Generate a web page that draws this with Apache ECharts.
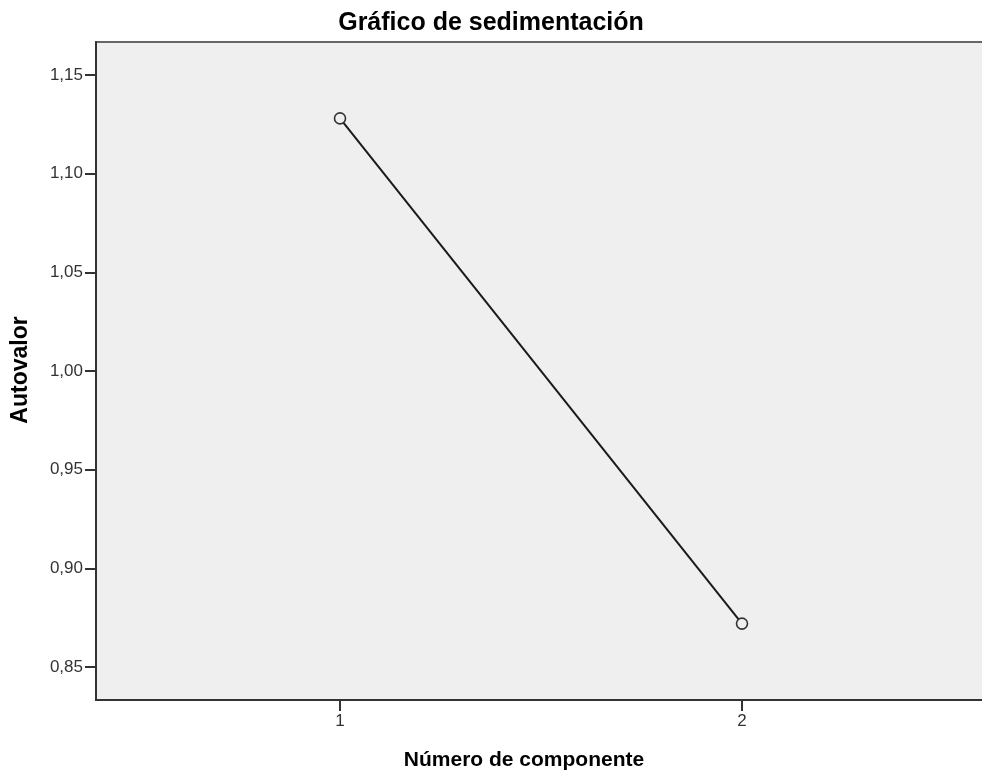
<!DOCTYPE html>
<html>
<head>
<meta charset="utf-8">
<script src="https://cdn.jsdelivr.net/npm/echarts@6/dist/echarts.min.js"></script>
<style>
html,body{margin:0;padding:0;background:#fff;}
#c{width:982px;height:774px;}
</style>
</head>
<body>
<div id="c"></div>
<script>
const components = [1, 2];
const eigenvalues = [1.128, 0.872];
const yTicks = [0.85, 0.90, 0.95, 1.00, 1.05, 1.10, 1.15];
const xTicks = [1, 2];
const titleText = 'Gráfico de sedimentación';
const xName = 'Número de componente';
const yName = 'Autovalor';

const chart = echarts.init(document.getElementById('c'), null, {renderer: 'canvas'});
const fmt = v => v.toFixed(2).replace('.', ',');
const FONT = '"Liberation Sans", Arial, sans-serif';
chart.setOption({
  animation: false,
  grid: {
    left: 96, top: 42, height: 658, width: 890, show: true,
    outerBoundsMode: 'none', containLabel: false,
    backgroundColor: '#efefef', borderColor: '#666', borderWidth: 2
  },
  xAxis: {
    type: 'value', min: 0.393, max: 2.607,
    axisLine: {show: true, lineStyle: {color: '#333', width: 2}},
    axisTick: {show: true, customValues: xTicks, length: 11, lineStyle: {color: '#333', width: 2}},
    axisLabel: {customValues: xTicks, formatter: v => String(v), color: '#333', fontSize: 17, fontFamily: FONT, margin: 13},
    splitLine: {show: false}
  },
  yAxis: {
    type: 'value', min: 0.8333, max: 1.1667,
    axisLine: {show: true, lineStyle: {color: '#333', width: 2}},
    axisTick: {show: true, customValues: yTicks, length: 11, lineStyle: {color: '#333', width: 2}},
    axisLabel: {customValues: yTicks, formatter: fmt, color: '#333', fontSize: 17, fontFamily: FONT, margin: 13},
    splitLine: {show: false}
  },
  graphic: [
    {type: 'text', x: 491, y: 23,
      style: {text: titleText, font: 'bold 25px ' + FONT, fill: '#000', align: 'center', verticalAlign: 'middle'}},
    {type: 'text', x: 524, y: 760,
      style: {text: xName, font: 'bold 21px ' + FONT, fill: '#000', align: 'center', verticalAlign: 'middle'}},
    {type: 'text', x: 21, y: 370, rotation: Math.PI / 2,
      style: {text: yName, font: 'bold 23px ' + FONT, fill: '#000', align: 'center', verticalAlign: 'middle'}}
  ],
  series: [{
    type: 'line',
    data: components.map((c, i) => [c, eigenvalues[i]]),
    lineStyle: {color: '#1a1a1a', width: 2},
    symbol: 'circle', symbolSize: 11,
    itemStyle: {color: '#efefef', borderColor: '#333', borderWidth: 1.6}
  }]
});
</script>
</body>
</html>
